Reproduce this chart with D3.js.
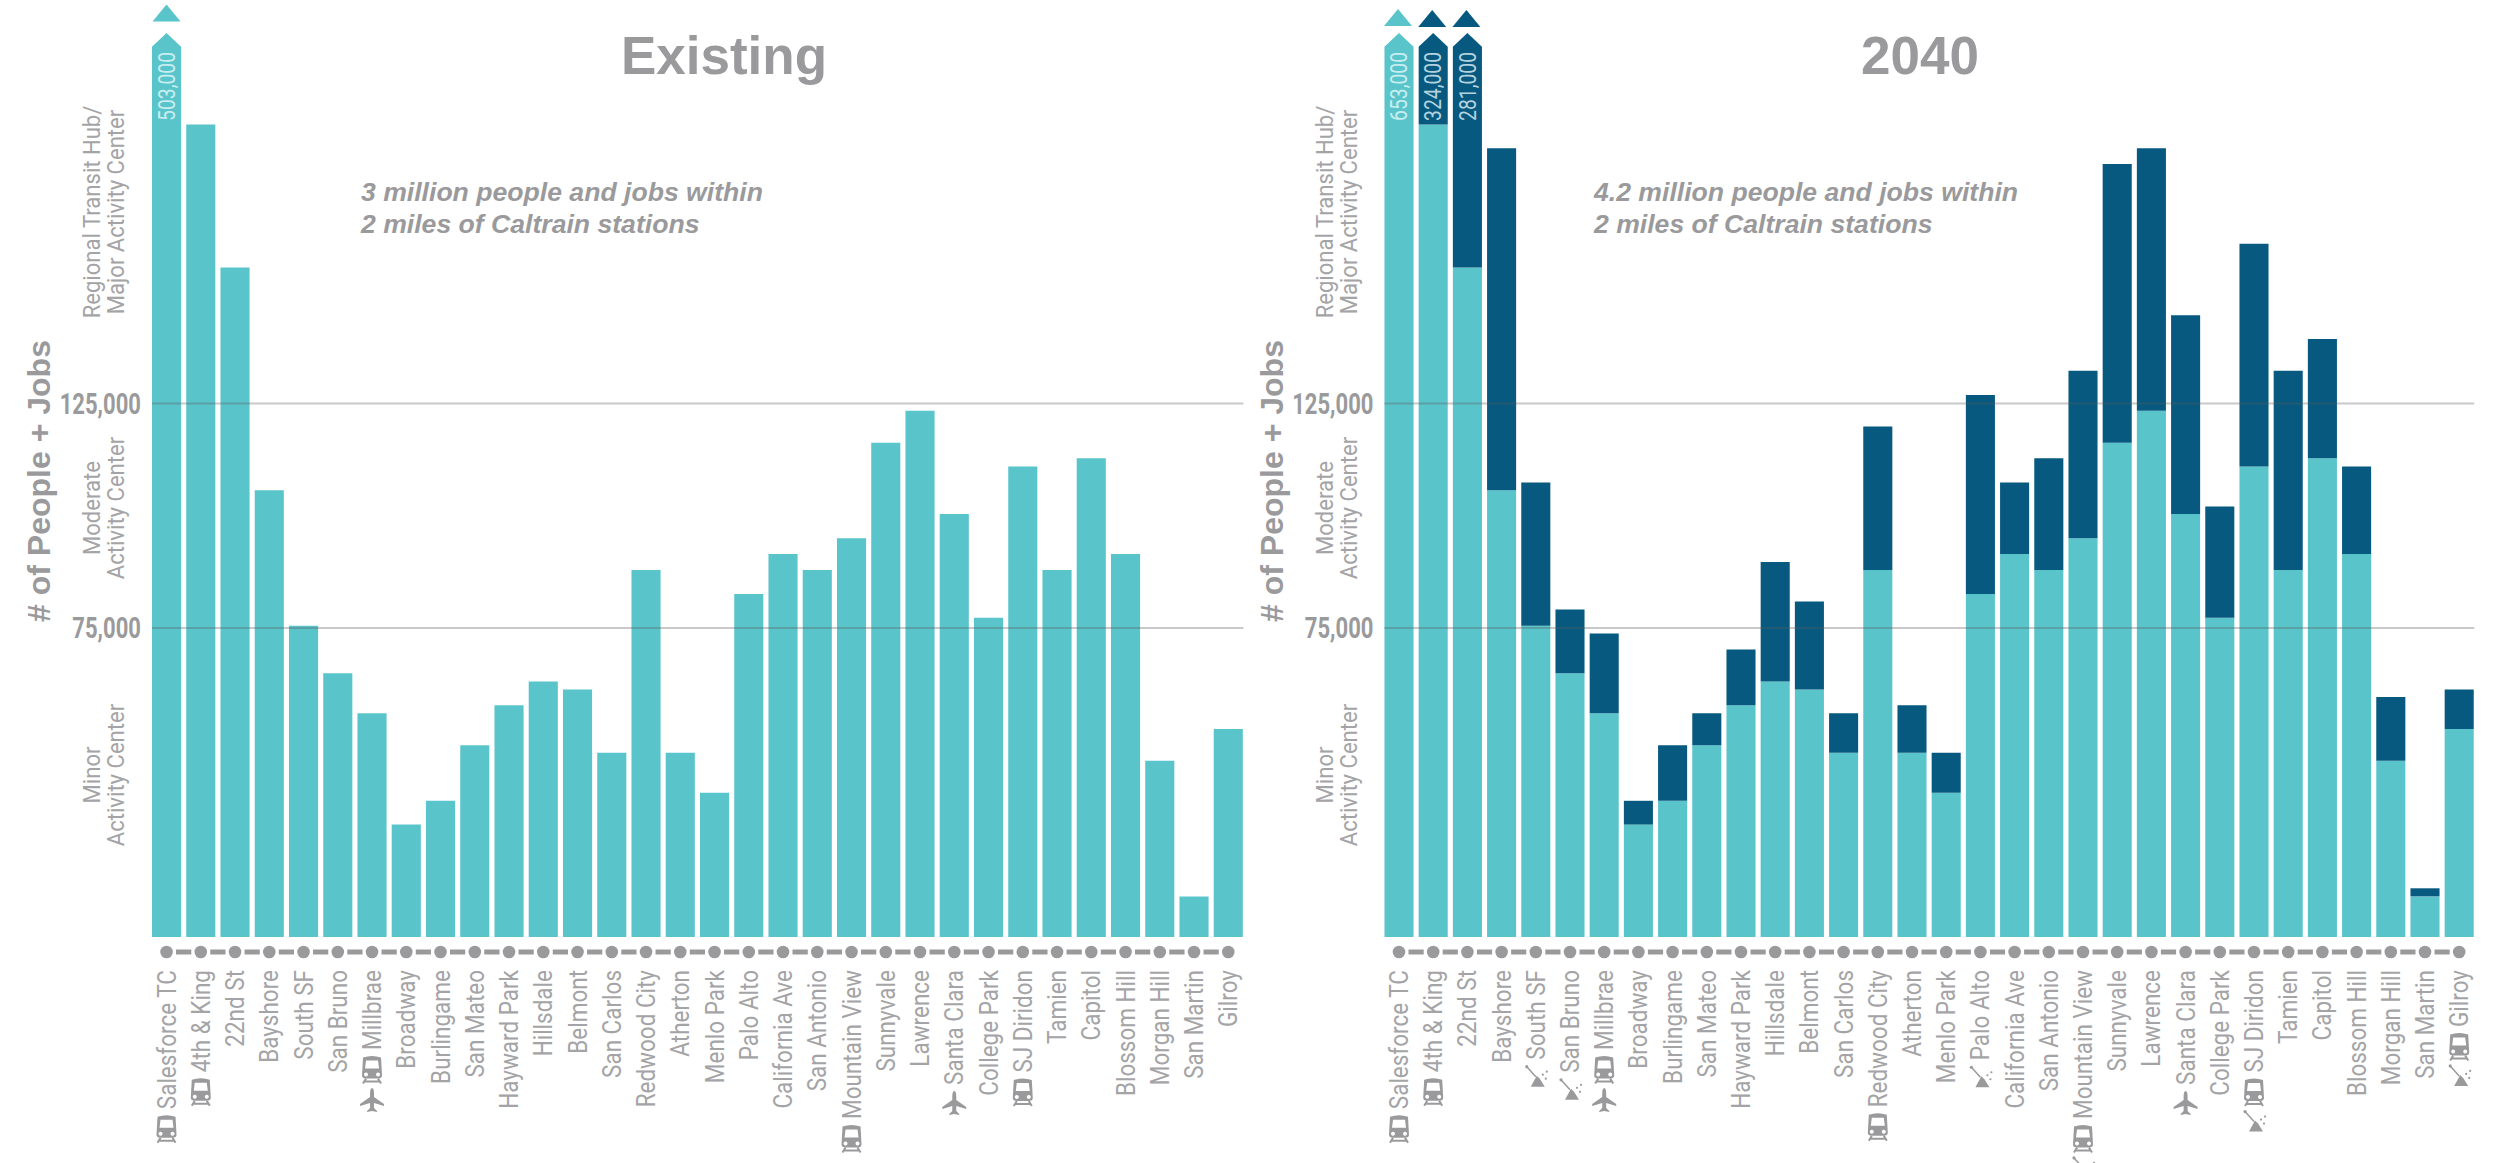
<!DOCTYPE html>
<html><head><meta charset="utf-8">
<script src="https://cdn.jsdelivr.net/npm/d3@7"></script>
<style>html,body{margin:0;padding:0;background:#fff}svg{display:block}</style></head>
<body><div id="chart"></div>
<script>
const stations=["Salesforce TC","4th & King","22nd St","Bayshore","South SF","San Bruno","Millbrae","Broadway","Burlingame","San Mateo","Hayward Park","Hillsdale","Belmont","San Carlos","Redwood City","Atherton","Menlo Park","Palo Alto","California Ave","San Antonio","Mountain View","Sunnyvale","Lawrence","Santa Clara","College Park","SJ Diridon","Tamien","Capitol","Blossom Hill","Morgan Hill","San Martin","Gilroy"];
const existing=[503000,187200,155300,105700,75500,64900,56000,31200,36500,48900,57800,63100,61300,47200,87900,47200,38300,82600,91500,87900,95000,116300,123400,100400,77300,111000,87900,112800,91500,45400,15200,52500];
const future=[653000,324000,281000,181900,107400,79100,73800,36500,48900,56000,70200,89700,80900,56000,119900,57800,47200,126900,107400,112800,132300,178400,181900,144700,102100,160600,132300,139400,111000,59600,17000,61300];
const yTicks=[75000,125000];
const trainNow=["Salesforce TC","4th & King","Millbrae","Mountain View","SJ Diridon"];
const train2040=["Salesforce TC","4th & King","Millbrae","Redwood City","Mountain View","SJ Diridon","Gilroy"];
const planes=["Millbrae","Santa Clara"];
const shovel2040=["South SF","San Bruno","Palo Alto","Mountain View","SJ Diridon","Gilroy"];
const bands=[{l:["Regional Transit Hub/","Major Activity Center"],c:212},{l:["Moderate","Activity Center"],c:508},{l:["Minor","Activity Center"],c:775}];
const capValue=204500,tipValue=207600;

const LIGHT="#5AC4CB",DARK="#07597F",GREY="#9a9a9c",LAB="#a4a4a6";
const svg=d3.select("#chart").append("svg").attr("width",2496).attr("height",1163);
const y=d3.scaleLinear().domain([6150,125000]).range([937,403.6]);
const fmt=d3.format(",");

function trainIcon(g){
  g.append("path").attr("d","M-9,-12 Q0,-15 9,-12 L10,6 Q10,9 6,9 L-6,9 Q-10,9 -10,6 Z M-6,-9 L-7,-1 L7,-1 L6,-9 Z M-6,3 a2,2 0 1,0 .01,0 Z M6,3 a2,2 0 1,0 .01,0 Z").attr("fill",GREY).attr("fill-rule","evenodd");
  g.append("path").attr("d","M-6,9 L-9,14 M6,9 L9,14 M-8,12 L8,12").attr("stroke",GREY).attr("stroke-width",2).attr("fill","none");
}
function planeIcon(g){
  g.append("path").attr("d","M0,-12 Q2,-12 2,-6 L2,-3 L12,4 L12,6 L2,3 L2,8 L5,11 L5,12 L0,11 L-5,12 L-5,11 L-2,8 L-2,3 L-12,6 L-12,4 L-2,-3 L-2,-6 Q-2,-12 0,-12 Z").attr("fill",GREY);
}
function shovelIcon(g){
  g.append("path").attr("d","M-9,-10 L0,0").attr("stroke",GREY).attr("stroke-width",1.5);
  g.append("path").attr("d","M-5,10 L1,-1 L4,2 L9,10 Z").attr("fill",GREY);
  g.selectAll("circle.s").data([[7,-2],[10,2],[11,-5]]).join("circle").attr("cx",d=>d[0]).attr("cy",d=>d[1]).attr("r",1.1).attr("fill",GREY);
  g.append("circle").attr("cx",-9).attr("cy",-10).attr("r",1.6).attr("fill",GREY);
}

function panel(o){
  const g=svg.append("g");
  const x=d3.scaleBand().domain(stations).range(o.range).paddingInner(.15).paddingOuter(.075);
  const bw=x.bandwidth();
  const cap=v=>Math.min(v,capValue);
  const rows=stations.map((s,i)=>({s,base:existing[i],top:o.stack?future[i]:existing[i]}));
  const arrow=(d,from,to)=>{
    const x0=x(d.s),x1=x0+bw,xc=x0+bw/2;
    return to>=capValue
      ?`M${x0},${y(from)}L${x0},${y(capValue)}L${xc},${y(tipValue)}L${x1},${y(capValue)}L${x1},${y(from)}Z`
      :`M${x0},${y(from)}L${x0},${y(to)}L${x1},${y(to)}L${x1},${y(from)}Z`;
  };
  g.selectAll("path.base").data(rows).join("path").attr("fill",LIGHT).attr("d",d=>arrow(d,y.domain()[0],cap(d.base)));
  if(o.stack) g.selectAll("path.add").data(rows.filter(d=>d.base<capValue)).join("path").attr("fill",DARK).attr("d",d=>arrow(d,d.base,cap(d.top)));

  const gridRight=o.range[1]-2;
  g.selectAll("line.grid").data(yTicks).join("line").attr("x1",x(stations[0])).attr("x2",gridRight)
    .attr("y1",d=>y(d)).attr("y2",d=>y(d)).attr("stroke","rgba(90,90,90,.33)").attr("stroke-width",2);
  const tickX=x(stations[0])-11;
  g.selectAll("text.tick").data(yTicks).join("text")
    .attr("transform",d=>`translate(${tickX},${y(d)+10}) scale(.76,1)`).attr("text-anchor","end")
    .attr("font-family","Roboto").attr("font-weight",700).attr("font-size",29).attr("fill",GREY).text(fmt);

  const over=stations.map((s,i)=>({s,base:existing[i],v:o.stack?future[i]:existing[i],top:o.stack?future[i]:existing[i]})).filter(d=>d.top>=capValue);
  g.selectAll("text.val").data(over).join("text")
    .attr("transform",d=>`translate(${x(d.s)+bw/2},52) rotate(-90) scale(.84,1)`)
    .attr("text-anchor","end").attr("dy",".36em").attr("font-family","Roboto").attr("font-size",23)
    .attr("fill",d=>d.base>=capValue?"#c6eef0":"#b4d3de").text(d=>fmt(d.v));
  g.selectAll("path.tri").data(over).join("path")
    .attr("fill",d=>d.base>=capValue?LIGHT:DARK)
    .attr("d",d=>{const c=x(d.s)+bw/2-(o.stack?1:0),b=d.base>=capValue?o.triBase:o.triBase+1;return `M${c-14},${b}L${c},${b-17}L${c+14},${b}Z`;});

  const cx=s=>x(s)+bw/2;
  g.selectAll("line.dash").data(stations.slice(1)).join("line")
    .attr("x1",(d,i)=>cx(stations[i])+9.5).attr("x2",d=>cx(d)-9.5).attr("y1",952).attr("y2",952).attr("stroke",GREY).attr("stroke-width",5);
  g.selectAll("circle.stop").data(stations).join("circle").attr("cx",cx).attr("cy",952).attr("r",6.3).attr("fill",GREY);

  const sx=.9,labTop=970;
  const labs=g.selectAll("text.st").data(stations).join("text")
    .attr("transform",d=>`translate(${cx(d)},${labTop}) rotate(-90) scale(${sx},1)`)
    .attr("text-anchor","end").attr("dy",".36em").attr("font-family","Roboto").attr("font-size",25).attr("fill",LAB).text(d=>d);
  labs.each(function(d){
    let yy=labTop+this.getComputedTextLength()*sx+6;
    const put=(fn,h)=>{const ig=g.append("g").attr("transform",`translate(${cx(d)},${yy+h/2})`);fn(ig);yy+=h+5;};
    if(o.train.includes(d)) put(trainIcon,27);
    if(planes.includes(d)) put(planeIcon,24);
    if(o.shovel.includes(d)) put(shovelIcon,22);
  });

  const dx=o.dx;
  g.append("text").attr("x",o.titleX).attr("y",74).attr("text-anchor","middle").attr("font-family","Liberation Sans").attr("font-weight",700).attr("font-size",53).attr("fill",GREY).text(o.title);
  g.append("text").attr("transform",`translate(${38+dx},481) rotate(-90)`).attr("text-anchor","middle").attr("dy",".36em").attr("font-family","Liberation Sans").attr("font-weight",700).attr("font-size",32).attr("fill",GREY).text("# of People + Jobs");
  o.note.forEach((t,i)=>g.append("text").attr("x",o.noteX).attr("y",201+i*32).attr("font-family","Liberation Sans").attr("font-weight",700).attr("font-style","italic").attr("font-size",26.6).attr("fill",GREY).text(t));
  bands.forEach(b=>b.l.forEach((t,i)=>g.append("text").attr("transform",`translate(${91+24*i+dx},${b.c}) rotate(-90) scale(.92,1)`).attr("text-anchor","middle").attr("dy",".36em").attr("font-family","Roboto").attr("font-size",24).attr("fill",LAB).text(t)));
}
panel({range:[149.4,1245.4],stack:false,title:"Existing",titleX:724,dx:0,noteX:361,triBase:21.5,train:trainNow,shovel:[],note:["3 million people and jobs within","2 miles of Caltrain stations"]});
panel({range:[1381.9,2476.3],stack:true,title:"2040",titleX:1920,dx:1233,noteX:1594,triBase:26,train:train2040,shovel:shovel2040,note:["4.2 million people and jobs within","2 miles of Caltrain stations"]});
</script></body></html>
